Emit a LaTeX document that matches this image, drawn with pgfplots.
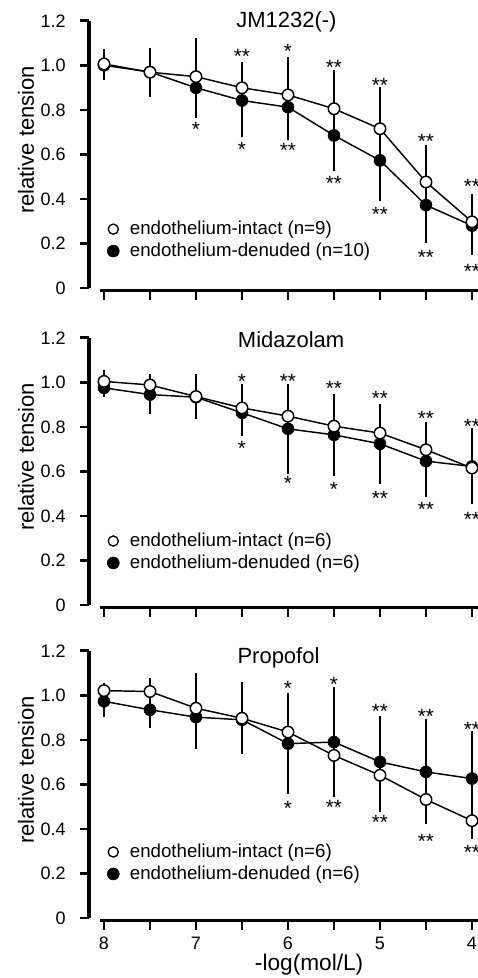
\documentclass[border=0pt]{standalone}
\usepackage{fontspec}
\setmainfont{Liberation Sans}
\usepackage{pgfplots}
\usepackage{pgfplotstable}
\pgfplotsset{compat=1.18}

% x  open(intact) err  filled(denuded) err
\pgfplotstableread{
x   yo    eo    yf    ef
8   1.006 0.050 1.000 0.050
7.5 0.969 0.095 0.970 0.070
7   0.949 0.160 0.899 0.120
6.5 0.899 0.100 0.842 0.150
6   0.867 0.155 0.812 0.130
5.5 0.805 0.160 0.685 0.145
5   0.715 0.170 0.573 0.165
4.5 0.476 0.150 0.372 0.155
4   0.297 0.110 0.280 0.115
}\jmdata

\pgfplotstableread{
x   yo    eo    yf    ef
8   1.004 0.035 0.975 0.025
7.5 0.988 0.035 0.945 0.070
7   0.936 0.085 0.933 0.060
6.5 0.885 0.090 0.863 0.090
6   0.848 0.095 0.791 0.185
5.5 0.803 0.090 0.764 0.170
5   0.772 0.100 0.724 0.165
4.5 0.697 0.110 0.646 0.145
4   0.615 0.130 0.622 0.155
}\midadata

\pgfplotstableread{
x   yo    eo    yf    ef
8   1.021 0.020 0.973 0.055
7.5 1.017 0.045 0.935 0.068
7   0.942 0.142 0.902 0.127
6.5 0.897 0.145 0.890 0.120
6   0.835 0.130 0.783 0.210
5.5 0.730 0.170 0.790 0.230
5   0.641 0.150 0.701 0.190
4.5 0.532 0.085 0.656 0.220
4   0.437 0.065 0.626 0.197
}\propdata

\newcommand{\ttlfont}{\fontsize{16.5}{17}\selectfont}
\newcommand{\sigfont}{\fontsize{15.5}{15.5}\selectfont}

\pgfplotsset{
  panel/.style={
    x=69pt, y=167pt, x dir=reverse,
    xmin=3.924, xmax=8.163, ymin=-0.01, ymax=1.2,
    anchor=south west, clip=false,
    axis line style={draw=none},
    tick pos=left, tick align=outside, major tick length=7pt,
    tick style={black, line width=2pt},
    xtick={4,4.5,5,5.5,6,6.5,7,7.5,8}, xticklabels={},
    ytick={0,0.2,0.4,0.6,0.8,1.0,1.2},
    yticklabels={0,0.2,0.4,0.6,0.8,1.0,1.2},
    tick label style={font=\fontsize{13.5}{14}\selectfont},
    yticklabel style={xshift=-7pt},
    xticklabel style={yshift=-2pt},
    /pgf/number format/assume math mode=true,
    legend cell align=left,
    legend image code/.code={\draw[##1] plot coordinates {(0pt,0pt)};},
    legend style={draw=none, fill=none, inner sep=0pt, anchor=west,
      font=\fontsize{14}{14}\selectfont, row sep=4.8pt, column sep=8pt,
      nodes={inner sep=0pt}},
  },
}

\newcommand{\curves}[1]{%
  \addplot[forget plot, black, line width=1.1pt, mark=none,
    error bars/.cd, y dir=both, y explicit,
    error bar style={line width=1.1pt},
    error mark options={line width=1.1pt, mark size=2.6pt}]
    table[x=x, y=yf, y error=ef] {#1};
  \addplot[forget plot, black, line width=1.1pt, mark=none,
    error bars/.cd, y dir=both, y explicit,
    error bar style={line width=1.1pt},
    error mark options={line width=1.1pt, mark size=2.6pt}]
    table[x=x, y=yo, y error=eo] {#1};
  \addplot[forget plot, only marks, mark=*, mark size=4.5pt, black]
    table[x=x, y=yf] {#1};
  \addplot[forget plot, only marks, mark=*, mark size=4.3pt,
    mark options={fill=white, draw=black, line width=1.1pt}]
    table[x=x, y=yo] {#1};
}
\newcommand{\axlines}{%
  \draw[line width=2.4pt] (axis cs:8.163,0) -- (axis cs:8.163,1.2);
  \draw[line width=2.4pt] (axis cs:8.04,-0.01) -- (axis cs:3.924,-0.01);
  \node[rotate=90, font=\ttlfont] at (axis cs:8.848,0.665) {relative tension};
}
\newcommand{\sig}[3]{\node[font=\sigfont, yshift=-3.2pt] at (axis cs:#1,#2) {#3};}

\begin{document}
\begin{tikzpicture}

% JM1232(-)
\begin{axis}[panel, at={(0pt,0pt)}, legend style={at={(axis cs:7.967,0.215)}}]
\addlegendimage{only marks, mark=*, mark size=3.8pt, mark options={fill=white, draw=black, line width=1pt}}
\addlegendentry{endothelium-intact (n=9)}
\addlegendimage{only marks, mark=*, mark size=4.5pt, black}
\addlegendentry{endothelium-denuded (n=10)}
\curves{\jmdata}
\axlines
\sig{6.5}{1.058}{**} \sig{6}{1.081}{*} \sig{5.5}{1.009}{**}
\sig{5}{0.931}{**} \sig{4.5}{0.678}{**} \sig{4}{0.476}{**}
\sig{7}{0.730}{*} \sig{6.5}{0.640}{*} \sig{6}{0.636}{**}
\sig{5.5}{0.491}{**} \sig{5}{0.349}{**} \sig{4.5}{0.158}{**} \sig{4}{0.095}{**}
\end{axis}

% Midazolam
\begin{axis}[panel, at={(0pt,-237.75pt)}, legend style={at={(axis cs:7.967,0.238)}}]
\addlegendimage{only marks, mark=*, mark size=3.8pt, mark options={fill=white, draw=black, line width=1pt}}
\addlegendentry{endothelium-intact (n=6)}
\addlegendimage{only marks, mark=*, mark size=4.5pt, black}
\addlegendentry{endothelium-denuded (n=6)}
\curves{\midadata}
\axlines
\sig{6.5}{1.022}{*} \sig{6}{1.025}{**} \sig{5.5}{0.990}{**}
\sig{5}{0.948}{**} \sig{4.5}{0.855}{**} \sig{4}{0.821}{**}
\sig{6.5}{0.721}{*} \sig{6}{0.563}{*} \sig{5.5}{0.540}{*}
\sig{5}{0.500}{**} \sig{4.5}{0.448}{**} \sig{4}{0.403}{**}
\end{axis}

% Propofol
\begin{axis}[panel, at={(0pt,-472.5pt)}, legend style={at={(axis cs:7.967,0.247)}},
  xticklabels={4,,5,,6,,7,,8}]
\addlegendimage{only marks, mark=*, mark size=3.8pt, mark options={fill=white, draw=black, line width=1pt}}
\addlegendentry{endothelium-intact (n=6)}
\addlegendimage{only marks, mark=*, mark size=4.5pt, black}
\addlegendentry{endothelium-denuded (n=6)}
\curves{\propdata}
\axlines
\node[font=\fontsize{17}{17}\selectfont] at (axis cs:5.77,-0.211) {-log(mol/L)};
\sig{6}{1.048}{*} \sig{5.5}{1.069}{*} \sig{5}{0.947}{**}
\sig{4.5}{0.924}{**} \sig{4}{0.868}{**}
\sig{6}{0.511}{*} \sig{5.5}{0.514}{**} \sig{5}{0.447}{**}
\sig{4.5}{0.365}{**} \sig{4}{0.313}{**}
\end{axis}

% panel titles
\node[font=\ttlfont, anchor=base west, inner sep=0pt] at (110.3pt,196.9pt) {JM1232(-)};
\node[font=\ttlfont, anchor=base west, inner sep=0pt] at (111.5pt,-43.1pt) {Midazolam};
\node[font=\ttlfont, anchor=base west, inner sep=0pt] at (111.2pt,-279.6pt) {Propofol};

\pgfresetboundingbox
\path (-66.75pt,-515.85pt) rectangle (291.75pt,217.65pt);
\end{tikzpicture}
\end{document}
